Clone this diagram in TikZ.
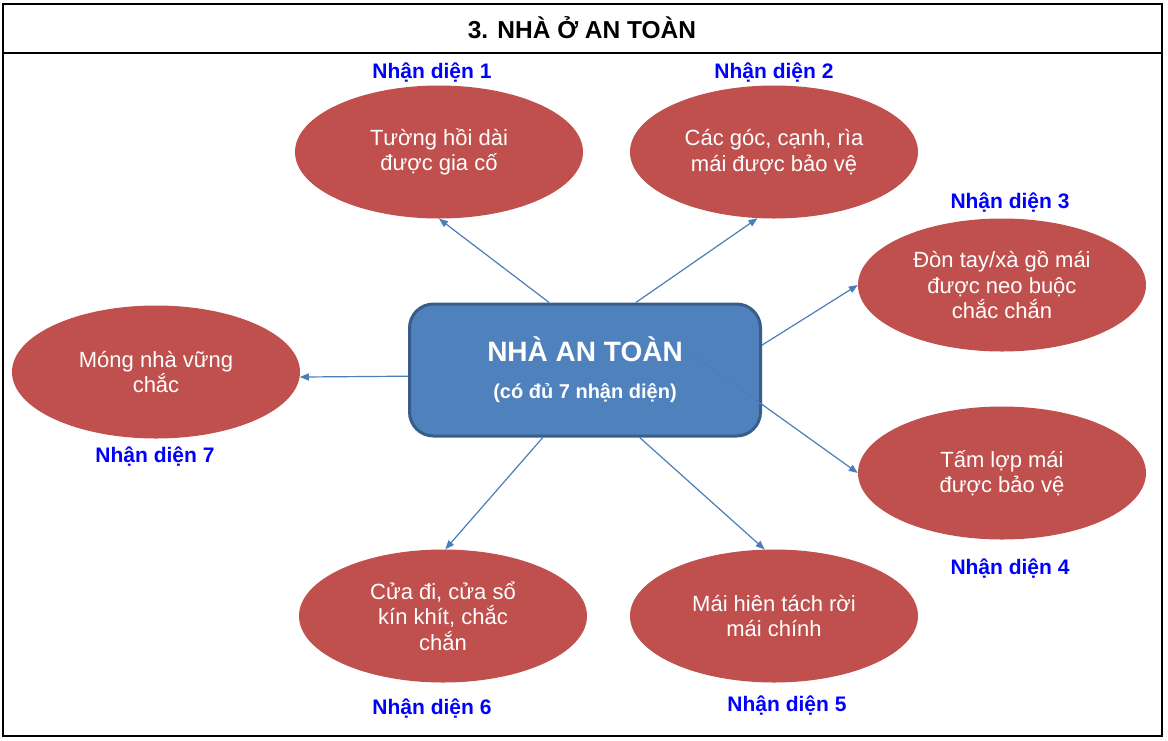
\documentclass[tikz,border=0pt]{standalone}
\usepackage{fontspec}
\setmainfont{Liberation Sans}
\usetikzlibrary{shapes.geometric,arrows.meta}
\definecolor{ideared}{HTML}{C0504D}
\definecolor{hubblue}{HTML}{4F81BD}
\definecolor{hubedge}{HTML}{385D8A}
\definecolor{linkblue}{HTML}{4A7EBB}
\definecolor{tagblue}{HTML}{0000FF}
\tikzstyle{idea}=[ellipse,fill=ideared,minimum width=288pt,minimum height=133pt,inner sep=0pt,text=white,align=center,font=\fontsize{22}{25.5}\selectfont]
\tikzstyle{hub}=[rectangle,rounded corners=24pt,fill=hubblue,draw=hubedge,line width=3pt,minimum width=351pt,minimum height=132pt,text=white,align=center,font=\bfseries\fontsize{28}{37}\selectfont]
\tikzstyle{tag}=[anchor=base,text=tagblue,font=\bfseries\fontsize{21}{24}\selectfont]
\tikzstyle{link}=[draw=linkblue,line width=1.2pt,-{Triangle[length=9pt,width=7pt]}]

\begin{document}
\begin{tikzpicture}[x=1pt,y=-1pt]
\useasboundingbox (0, 0) rectangle (1168, 740);
\draw[line width=2pt] (3, 4) rectangle (1162, 736);
\draw[line width=2pt] (3, 53) -- (1162, 53);
\node[anchor=base,font=\bfseries\fontsize{24.5}{28}\selectfont] at (582, 38) (title) {3. NHÀ Ở AN TOÀN};
\node[hub] at (585, 370) (box) {NHÀ AN TOÀN\\{\fontsize{20}{37}\selectfont (có đủ 7 nhận diện)}};
\node[idea] at (439, 152) (e1) {Tường hồi dài\\được gia cố};
\node[idea] at (774, 152) (e2) {Các góc, cạnh, rìa\\mái được bảo vệ};
\node[idea] at (1002, 285) (e3) {Đòn tay/xà gồ mái\\được neo buộc\\chắc chắn};
\node[idea] at (1002, 473) (e4) {Tấm lợp mái\\được bảo vệ};
\node[idea] at (774, 616) (e5) {Mái hiên tách rời\\mái chính};
\node[idea] at (443, 616) (e6) {Cửa đi, cửa sổ\\kín khít, chắc\\chắn};
\node[idea] at (156, 372) (e7) {Móng nhà vững\\chắc};
\node[tag] at (432, 78) (t1) {Nhận diện 1};
\node[tag] at (774, 78) (t2) {Nhận diện 2};
\node[tag] at (1010, 208) (t3) {Nhận diện 3};
\node[tag] at (1010, 574) (t4) {Nhận diện 4};
\node[tag] at (787, 711) (t5) {Nhận diện 5};
\node[tag] at (432, 714) (t6) {Nhận diện 6};
\node[tag] at (155, 462) (t7) {Nhận diện 7};
\coordinate (s4) at (693, 355);
\draw[link] (box.118) -- (e1.south);
\draw[link] (box.53) -- (e2.256);
\draw[link] (box.8) -- (e3.west);
\draw[link] (s4) -- (e4.west);
\draw[link] (box.309) -- (e5.98);
\draw[link] (box.238) -- (e6.88);
\draw[link] (box.182) -- (e7.358);
\end{tikzpicture}
\end{document}
